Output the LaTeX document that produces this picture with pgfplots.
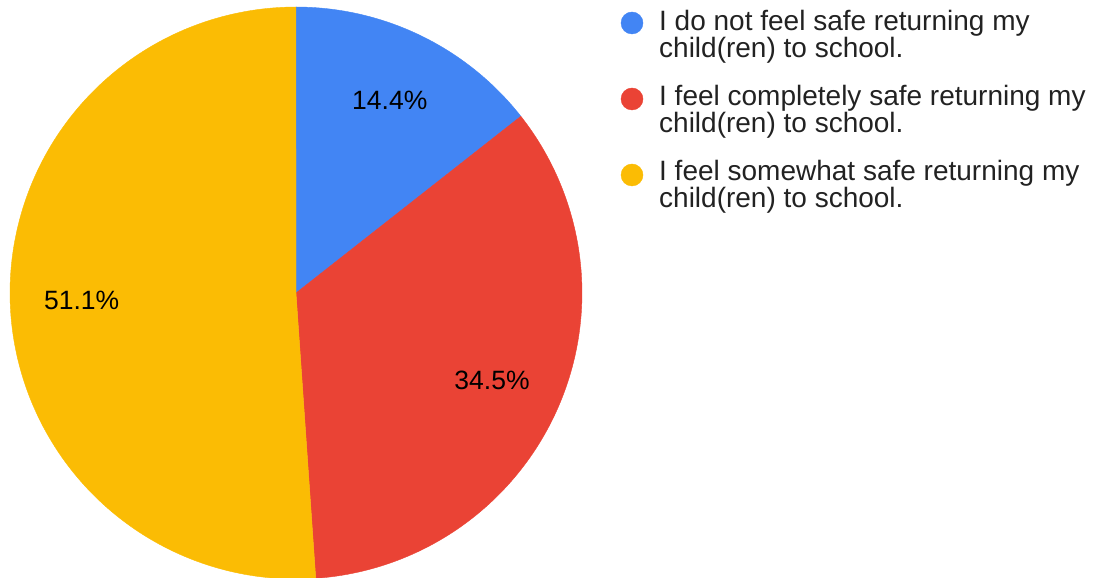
\documentclass[border=0pt]{standalone}
\usepackage{pgfplots}
\pgfplotsset{compat=1.18}
\usepackage{fontspec}
\setmainfont{Liberation Sans}
\definecolor{cblue}{HTML}{4285F4}
\definecolor{cred}{HTML}{EA4335}
\definecolor{cyel}{HTML}{FBBC04}
\definecolor{ltext}{HTML}{222222}
% shares (percent)
\def\va{14.4}
\def\vb{34.5}
\def\vc{51.1}
\begin{document}
\begin{tikzpicture}
\pgfmathsetmacro{\aA}{\va*3.6}
\pgfmathsetmacro{\aB}{(\va+\vb)*3.6}
\pgfmathsetmacro{\mA}{\va*1.8}
\pgfmathsetmacro{\mB}{\aA+\vb*1.8}
\pgfmathsetmacro{\mC}{\aB+\vc*1.8}
\begin{axis}[
  scale only axis, width=1093pt, height=578pt,
  xmin=0, xmax=1093, ymin=0, ymax=578,
  hide axis, clip=true,
]
\addplot[fill=cblue, draw=cblue, line width=0.4pt, domain=0:\aA, samples=80]
  ({296+286*sin(x)},{285+286*cos(x)}) -- (axis cs:296,285) -- cycle;
\addplot[fill=cred, draw=cred, line width=0.4pt, domain=\aA:\aB, samples=120]
  ({296+286*sin(x)},{285+286*cos(x)}) -- (axis cs:296,285) -- cycle;
\addplot[fill=cyel, draw=cyel, line width=0.4pt, domain=\aB:360, samples=160]
  ({296+286*sin(x)},{285+286*cos(x)}) -- (axis cs:296,285) -- cycle;

\node[font=\fontsize{26.5}{30}\selectfont, text=black, inner sep=0pt]
  at (axis cs:{296+214.5*sin(\mA)},{285+214.5*cos(\mA)}) {14.4\%};
\node[font=\fontsize{26.5}{30}\selectfont, text=black, inner sep=0pt]
  at (axis cs:{296+214.5*sin(\mB)},{285+214.5*cos(\mB)}) {34.5\%};
\node[font=\fontsize{26.5}{30}\selectfont, text=black, inner sep=0pt]
  at (axis cs:{296+214.5*sin(\mC)},{285+214.5*cos(\mC)}) {51.1\%};

% legend
\addplot[only marks, mark=*, mark size=11pt, color=cblue] coordinates {(632,555)};
\addplot[only marks, mark=*, mark size=11pt, color=cred] coordinates {(632,479)};
\addplot[only marks, mark=*, mark size=11pt, color=cyel] coordinates {(632,403)};
\node[anchor=base west, inner sep=0pt, align=left, text=ltext,
  font=\fontsize{28}{25.5}\selectfont] at (axis cs:659,520.5)
  {I do not feel safe returning my\\child(ren) to school.};
\node[anchor=base west, inner sep=0pt, align=left, text=ltext,
  font=\fontsize{28}{25.5}\selectfont] at (axis cs:659,445.5)
  {I feel completely safe returning my\\child(ren) to school.};
\node[anchor=base west, inner sep=0pt, align=left, text=ltext,
  font=\fontsize{28}{25.5}\selectfont] at (axis cs:659,370)
  {I feel somewhat safe returning my\\child(ren) to school.};
\end{axis}
\pgfresetboundingbox
\path (current axis.south west) rectangle (current axis.north east);
\end{tikzpicture}
\end{document}
